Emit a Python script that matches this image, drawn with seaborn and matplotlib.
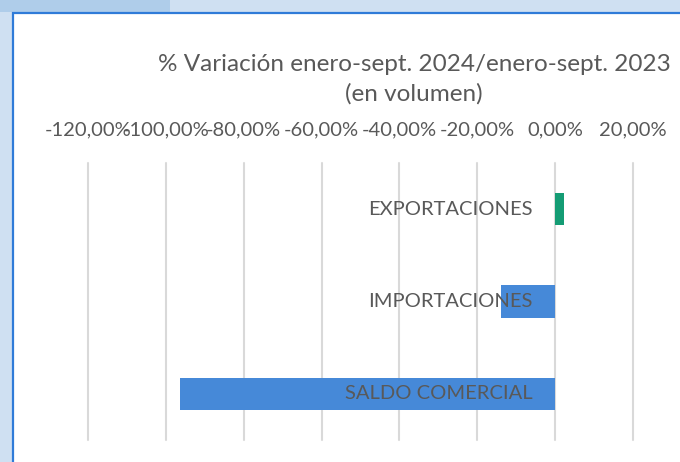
import matplotlib.pyplot as plt
import matplotlib.ticker as mticker
from matplotlib.patches import Rectangle
import seaborn as sns
import pandas as pd

# Data
categorias = ['EXPORTACIONES', 'IMPORTACIONES', 'SALDO COMERCIAL']
variacion = [2.3, -13.8, -96.4]  # % variation (volume)
colores = ['#149C74', '#4689D8', '#4689D8']
xticks = [-120, -100, -80, -60, -40, -20, 0, 20]

sns.set_style('white')
plt.rcParams['font.family'] = ['Lato', 'DejaVu Sans']
texto = '#595959'

df = pd.DataFrame({'categoria': categorias, 'variacion': variacion})

fig = plt.figure(figsize=(6.8, 4.62), dpi=100)
fig.patch.set_facecolor('white')

# Background frame like the spreadsheet window
fig.patches.append(Rectangle((0, 0), 1, 1, transform=fig.transFigure,
                             facecolor='#CFE0F2', edgecolor='none', zorder=-3))
fig.patches.append(Rectangle((0, 1 - 12 / 462), 170 / 680, 12 / 462, transform=fig.transFigure,
                             facecolor='#AFCDEA', edgecolor='none', zorder=-2))
fig.patches.append(Rectangle((13 / 680, -0.05), 1.1, 1.05 - 13 / 462, transform=fig.transFigure,
                             facecolor='white', edgecolor='#2F7BD8', linewidth=1.6, zorder=-1))

ax = fig.add_axes([88 / 680, 1 - 440 / 462, 545 / 680, 277 / 462])
ax.set_facecolor('none')
sns.barplot(data=df, x='variacion', y='categoria', hue='categoria',
            palette=colores, orient='h', width=0.35, legend=False, ax=ax,
            saturation=1, linewidth=0)

ax.set_xlim(-120, 20)
ax.set_xticks(xticks)
ax.xaxis.set_major_formatter(mticker.FuncFormatter(lambda v, p: f'{v:.2f}'.replace('.', ',') + '%'))
ax.xaxis.tick_top()
ax.tick_params(axis='x', length=0, pad=18, labelsize=14.5, labelcolor=texto)
ax.grid(axis='x', color='#D9D9D9', linewidth=1.5)
for gl in ax.get_xgridlines():
    gl.set_clip_on(False)
ax.set_axisbelow(True)
ax.set_yticks([])
ax.set_xlabel('')
ax.set_ylabel('')
for s in ax.spines.values():
    s.set_visible(False)

for i, c in enumerate(categorias):
    ax.annotate(c, xy=(0, i), xytext=(-23, 0), textcoords='offset pixels',
                ha='right', va='center', fontsize=14.5, color=texto, zorder=5)

fig.text(414 / 680, 1 - 79 / 462,
         '% Variación enero-sept. 2024/enero-sept. 2023\n(en volumen)',
         ha='center', va='center', fontsize=17.5, color=texto, linespacing=1.45)

fig.savefig('out.png', dpi=100)
